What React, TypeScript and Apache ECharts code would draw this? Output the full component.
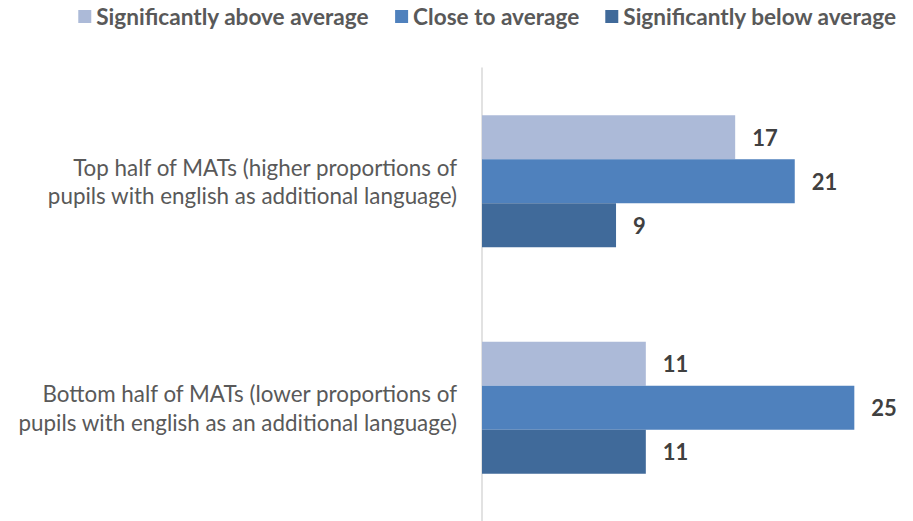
import React, { useEffect, useRef } from "react";
import * as echarts from "echarts";

const categories = [
  "Top half of MATs (higher proportions of\npupils with english as additional language)",
  "Bottom half of MATs (lower proportions of\npupils with english as an additional language)",
];
const seriesNames = [
  "Significantly above average",
  "Close to average",
  "Significantly below average",
];
const aboveValues = [17, 11];
const closeValues = [21, 25];
const belowValues = [9, 11];
const colors = ["#ACBAD8", "#4F81BD", "#406A9A"];

const FONT = "Lato";

export default function App() {
  const ref = useRef<HTMLDivElement>(null);
  useEffect(() => {
    if (!ref.current) return;
    const chart = echarts.init(ref.current, undefined, { renderer: "svg" });
    const values = [aboveValues, closeValues, belowValues];
    chart.setOption({
      animation: false,
      backgroundColor: "#ffffff",
      legend: {
        right: 11,
        top: 0,
        itemWidth: 13,
        itemHeight: 13,
        itemGap: 26,
        icon: "rect",
        textStyle: {
          fontFamily: FONT,
          fontWeight: "bold",
          fontSize: 22.6,
          color: "#595959",
        },
        data: seriesNames,
      },
      grid: { left: 482, top: 68, width: 417, height: 453, containLabel: false },
      xAxis: {
        type: "value",
        min: 0,
        max: 28,
        show: false,
        splitLine: { show: false },
      },
      yAxis: {
        type: "category",
        inverse: true,
        data: categories,
        axisLine: { show: true, lineStyle: { color: "#D9D9D9", width: 1.5 } },
        axisTick: { show: false },
        axisLabel: {
          margin: 25,
          fontFamily: FONT,
          fontSize: 22.4,
          lineHeight: 28.5,
          color: "#595959",
          align: "right",
        },
      },
      series: seriesNames.map((name, i) => ({
        name,
        type: "bar",
        data: values[i],
        barWidth: 44,
        barGap: "0%",
        itemStyle: { color: colors[i] },
        label: {
          show: true,
          position: "right",
          distance: 17,
          fontFamily: FONT,
          fontWeight: "bold",
          fontSize: 22,
          color: "#404040",
        },
      })),
    });
    return () => chart.dispose();
  }, []);
  return (
    <div
      ref={ref}
      style={{ position: "absolute", left: 0, top: 0, width: 913, height: 521 }}
    />
  );
}
